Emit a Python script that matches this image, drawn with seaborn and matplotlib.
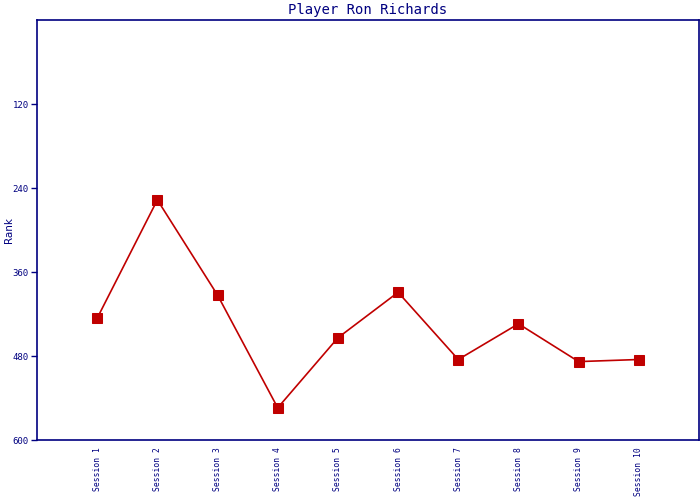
import matplotlib
matplotlib.use("Agg")
import matplotlib.pyplot as plt
import seaborn as sns
import pandas as pd

sessions = ["Session 1", "Session 2", "Session 3", "Session 4", "Session 5",
            "Session 6", "Session 7", "Session 8", "Session 9", "Session 10"]
ranks = [426, 257, 393, 554, 454, 389, 485, 434, 488, 485]
y_ticks = [120, 240, 360, 480, 600]

navy = "#000080"
red = "#c00000"

sns.set_theme(style="white")
plt.rcParams['font.family'] = ['DejaVu Sans Mono', 'DejaVu Sans']

df = pd.DataFrame({"Session": sessions, "Rank": ranks})

fig = plt.figure(figsize=(7, 5), dpi=100)
ax = fig.add_axes([37/700, 60/500, 662/700, 420/500])

sns.lineplot(data=df, x="Session", y="Rank", ax=ax, sort=False,
             color=red, linewidth=1.2, marker="s", markersize=7.5,
             markeredgecolor=red, markerfacecolor=red)

ax.set_xlim(-1, len(sessions))
ax.set_ylim(600, 0)
ax.set_yticks(y_ticks)
ax.set_yticklabels([str(v) for v in y_ticks], fontsize=6.5, color=navy)
ax.set_xticks(range(len(sessions)))
ax.set_xticklabels(sessions, rotation=90, fontsize=5.8, color=navy, va="top")
ax.tick_params(axis="y", direction="out", length=4, width=1, color=navy, pad=2, left=True)
ax.tick_params(axis="x", length=0, pad=5)
ax.set_xlabel("")
ax.set_ylabel("Rank", color=navy, fontsize=7.5, family="DejaVu Sans")
ax.yaxis.set_label_coords(-0.035, 0.5)
ax.set_title("Player Ron Richards", color=navy, fontsize=10, pad=4)
for s in ax.spines.values():
    s.set_color(navy)
    s.set_linewidth(1.2)
    s.set_visible(True)
ax.grid(False)

fig.savefig("out.png", dpi=100)
